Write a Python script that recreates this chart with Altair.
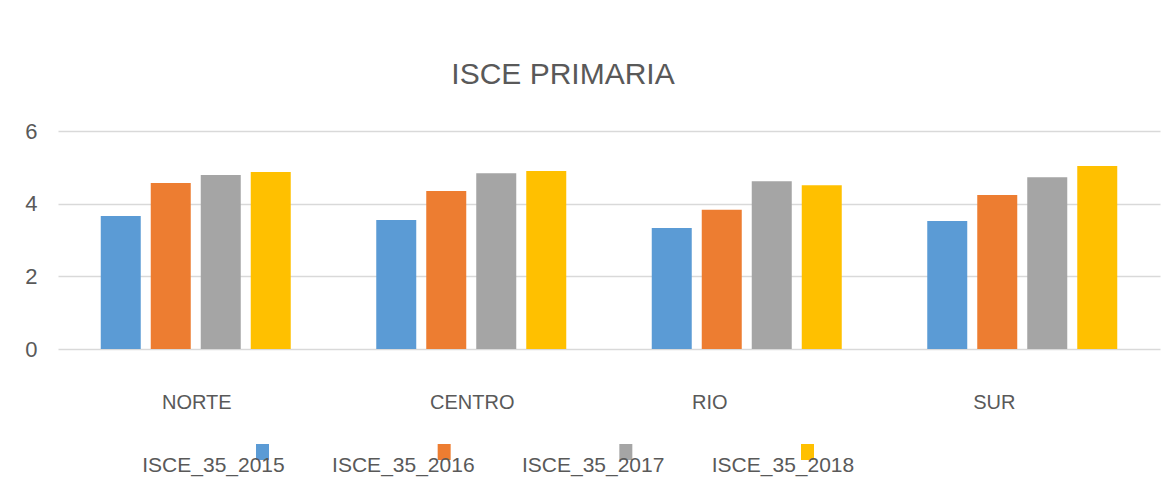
import altair as alt
import pandas as pd

title_text = "ISCE PRIMARIA"
regions = ["NORTE", "CENTRO", "RIO", "SUR"]
series = ["ISCE_35_2015", "ISCE_35_2016", "ISCE_35_2017", "ISCE_35_2018"]
v2015 = [3.66, 3.55, 3.33, 3.52]
v2016 = [4.57, 4.35, 3.83, 4.24]
v2017 = [4.79, 4.84, 4.62, 4.73]
v2018 = [4.87, 4.90, 4.51, 5.04]
colors = ["#5B9BD5", "#ED7D31", "#A5A5A5", "#FFC000"]
y_ticks = [0, 2, 4, 6]

rows = []
for s, vals in zip(series, [v2015, v2016, v2017, v2018]):
    for r, v in zip(regions, vals):
        rows.append({"region": r, "series": s, "value": v})
df = pd.DataFrame(rows)
leg_df = pd.DataFrame({"series": series})

TEXT = "#595959"
FONT = "Liberation Sans"
color_scale = alt.Scale(domain=series, range=colors)

main = alt.Chart(df).mark_bar().encode(
    x=alt.X("region:N", sort=regions,
            scale=alt.Scale(paddingInner=0, paddingOuter=0),
            axis=alt.Axis(title=None, labelAngle=0, domain=False, ticks=False, tickSize=0,
                          labelFont=FONT, labelFontSize=20,
                          labelColor=TEXT, labelPadding=43,
                          labelOffset={"condition": [
                              {"test": "datum.value === 'RIO'", "value": -37},
                              {"test": "datum.value === 'SUR'", "value": -28}],
                              "value": 1})),
    xOffset=alt.XOffset("series:N", sort=series,
                        scale=alt.Scale(paddingInner=0.2, paddingOuter=0.855)),
    y=alt.Y("value:Q", scale=alt.Scale(domain=[0, 6]),
            axis=alt.Axis(title=None, values=y_ticks, domain=False, ticks=False, tickSize=0,
                          labelFont=FONT, labelFontSize=22,
                          labelColor=TEXT, labelPadding=21,
                          grid=True, gridColor="#D9D9D9", gridWidth=1.5)),
    color=alt.Color("series:N", scale=color_scale, legend=None),
).properties(
    width=1102, height=218,
    title=alt.TitleParams(text=title_text, font=FONT, fontSize=30,
                          fontWeight="normal", color=TEXT, anchor="middle", dx=-46,
                          offset=30),
)

leg_sq = alt.Chart(leg_df).mark_point(
    shape="M-0.8125,-1L0.8125,-1L0.8125,1L-0.8125,1Z", size=256,
    filled=True, opacity=1, yOffset=-14,
).encode(
    x=alt.X("series:N", sort=series,
            scale=alt.Scale(type="point", range=[204.5, 749.5], padding=0), axis=None),
    color=alt.Color("series:N", scale=color_scale, legend=None),
)
leg_text = alt.Chart(leg_df).mark_text(
    font=FONT, fontSize=21, color=TEXT, baseline="middle", align="center",
).encode(
    x=alt.X("series:N", sort=series,
            scale=alt.Scale(type="point", range=[155.5, 725], padding=0), axis=None),
    text="series:N",
)
legend = alt.layer(leg_sq, leg_text).resolve_scale(x="independent").properties(
    width=1102, height=40)

chart = alt.vconcat(main, legend, spacing=32).properties(
    padding={"left": 16, "top": 52, "right": 5, "bottom": 5}
).configure_view(stroke=None)

chart.save("out.html", embed_options={"renderer": "svg", "actions": False})
